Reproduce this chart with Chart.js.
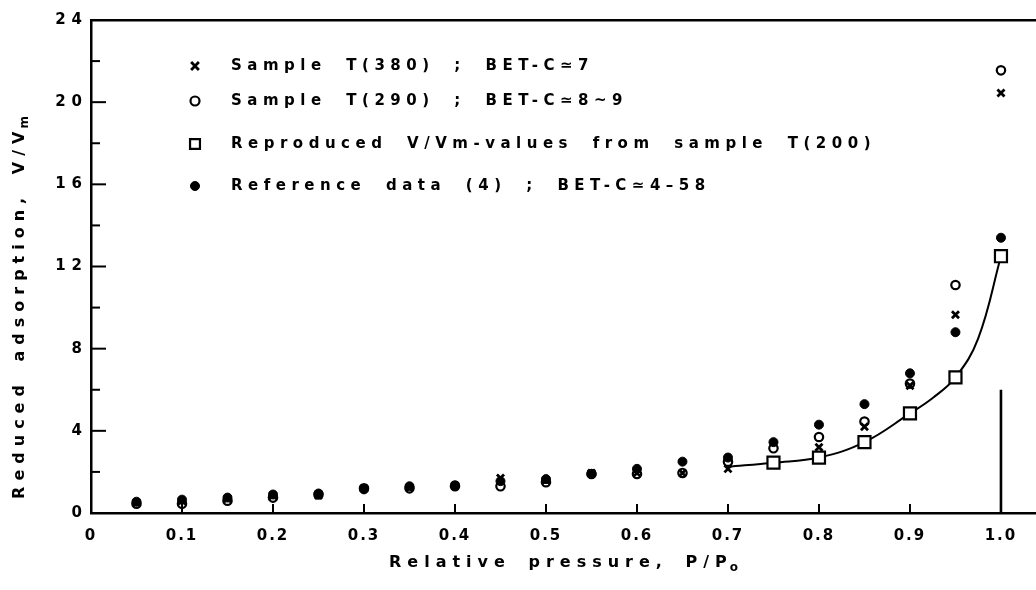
<!DOCTYPE html>
<html><head><meta charset="utf-8">
<script src="https://cdn.jsdelivr.net/npm/chart.js@4.4.0/dist/chart.umd.min.js"></script>
<style>html,body{margin:0;padding:0;background:#fff}#wrap{width:1036px;height:590px}</style>
</head><body><div id="wrap"><canvas id="c" width="1036" height="590"></canvas></div>
<script>
// ---- data ----
const pressures     = [0.05,0.10,0.15,0.20,0.25,0.30,0.35,0.40,0.45,0.50,0.55,0.60,0.65,0.70,0.75,0.80,0.85,0.90,0.95,1.00];
const sampleT380    = [0.50,0.60,0.70,0.85,0.85,1.20,1.25,1.35,1.70,1.60,1.95,1.95,1.95,2.15,2.50,3.20,4.20,6.20,9.65,20.45];
const sampleT290    = [0.45,0.45,0.60,0.75,0.90,1.20,1.20,1.30,1.30,1.50,1.90,1.90,1.95,2.50,3.15,3.70,4.45,6.30,11.10,21.55];
const referenceData = [0.55,0.65,0.75,0.90,0.95,1.15,1.30,1.35,1.55,1.65,1.90,2.15,2.50,2.70,3.45,4.30,5.30,6.80,8.80,13.40];
const reproducedP   = [0.75,0.80,0.85,0.90,0.95,1.00];
const reproducedV   = [2.45,2.70,3.45,4.85,6.60,12.50];
const curveP        = [0.70,0.75,0.80,0.85,0.90,0.925,0.95,0.975,1.00];
const curveV        = [2.25,2.45,2.70,3.45,4.85,5.60,6.60,8.50,12.50];
const limitLineP    = [1.0,1.0];
const limitLineV    = [0,6];
const xTickValues   = [0,0.1,0.2,0.3,0.4,0.5,0.6,0.7,0.8,0.9,1.0];
const yTickValues   = [0,4,8,12,16,20,24];
const yMinorValues  = [2,6,10,14,18,22];
const seriesNames   = ["Sample T(380) ; BET-C\u22437",
                       "Sample T(290) ; BET-C\u22438~9",
                       "Reproduced V/Vm-values from sample T(200)",
                       "Reference data (4) ; BET-C\u22434\u201358"];
const xTitleMain = "Relative pressure, P/P", xTitleSub = "o";
const yTitleMain = "Reduced adsorption, V/V", yTitleSub = "m";

const toXY = (xs, ys) => xs.map((x, i) => ({x, y: ys[i]}));

const FONT = "DejaVu Sans";
Chart.defaults.font.family = FONT;
Chart.defaults.font.size = 15;
Chart.defaults.font.weight = "bold";
Chart.defaults.color = "#000";

const styles = [
  {pointStyle: "crossRot", radius: 5,   borderWidth: 2.8, fill: "rgba(0,0,0,0)"},
  {pointStyle: "circle",   radius: 4.2, borderWidth: 2.2, fill: "rgba(0,0,0,0)"},
  {pointStyle: "rect",     radius: 8.5, borderWidth: 2.2, fill: "#fff"},
  {pointStyle: "circle",   radius: 4.5, borderWidth: 1,   fill: "#000"}
];
const legendRadius = [5.5, 4.5, 7, 4.5];

const decorPlugin = {
  id: "decor",
  afterLayout(chart) {
    const ys = chart.scales.y, xs = chart.scales.x;
    if (!ys._wrapped) {
      const o = ys.drawLabels;
      ys.drawLabels = function(a) { const c = this.ctx; c.save(); c.letterSpacing = "6px"; o.call(this, a); c.restore(); };
      ys._wrapped = true;
    }
    if (!xs._wrapped) {
      const o = xs.drawLabels;
      xs.drawLabels = function(a) { const c = this.ctx; c.save(); c.letterSpacing = "2px"; o.call(this, a); c.restore(); };
      xs._wrapped = true;
    }
  },
  afterDraw(chart) {
    const ctx = chart.ctx, ca = chart.chartArea;
    const xs = chart.scales.x, ys = chart.scales.y;
    ctx.save();
    ctx.strokeStyle = "#000";
    ctx.lineWidth = 2;
    ctx.lineCap = "butt";
    // inward ticks
    xTickValues.forEach(v => {
      if (v === 0) return;
      const px = xs.getPixelForValue(v);
      ctx.beginPath(); ctx.moveTo(px, ca.bottom); ctx.lineTo(px, ca.bottom - 9); ctx.stroke();
    });
    yTickValues.forEach(v => {
      if (v === 0 || v === 24) return;
      const py = ys.getPixelForValue(v);
      ctx.beginPath(); ctx.moveTo(ca.left, py); ctx.lineTo(ca.left + 15, py); ctx.stroke();
    });
    yMinorValues.forEach(v => {
      const py = ys.getPixelForValue(v);
      ctx.beginPath(); ctx.moveTo(ca.left, py); ctx.lineTo(ca.left + 9, py); ctx.stroke();
    });

    // legend
    const rowsY = [66, 101, 144, 186];
    ctx.font = "bold 15px " + FONT;
    ctx.fillStyle = "#000";
    ctx.textBaseline = "middle";
    ctx.textAlign = "left";
    seriesNames.forEach((name, i) => {
      const st = styles[i];
      ctx.save();
      ctx.strokeStyle = "#000";
      ctx.fillStyle = st.fill;
      ctx.lineWidth = st.borderWidth;
      Chart.helpers.drawPoint(ctx, {pointStyle: st.pointStyle, radius: legendRadius[i], rotation: 0, borderWidth: st.borderWidth}, 195, rowsY[i]);
      ctx.restore();
      ctx.save();
      ctx.letterSpacing = "5.5px";
      ctx.wordSpacing = "9px";
      ctx.fillText(name, 231, rowsY[i]);
      ctx.restore();
    });

    // axis titles with subscripts
    const drawSub = (main, sub, cx, cy) => {
      ctx.save();
      ctx.letterSpacing = "6px";
      ctx.wordSpacing = "6px";
      ctx.font = "bold 16px " + FONT;
      const w1 = ctx.measureText(main).width;
      ctx.font = "bold 12px " + FONT;
      const w2 = ctx.measureText(sub).width;
      const x0 = cx - (w1 + w2) / 2;
      ctx.font = "bold 16px " + FONT;
      ctx.textAlign = "left"; ctx.textBaseline = "middle";
      ctx.fillText(main, x0, cy);
      ctx.font = "bold 12px " + FONT;
      ctx.fillText(sub, x0 + w1 - 3, cy + 5);
      ctx.restore();
    };
    drawSub(xTitleMain, xTitleSub, 568, 563);
    ctx.save();
    ctx.translate(20, 303);
    ctx.rotate(-Math.PI / 2);
    drawSub(yTitleMain, yTitleSub, 0, 0);
    ctx.restore();
    ctx.restore();
  }
};

new Chart(document.getElementById("c"), {
  type: "scatter",
  data: {
    datasets: [
      {label: seriesNames[2], data: toXY(reproducedP, reproducedV), pointStyle: styles[2].pointStyle, pointRadius: styles[2].radius, pointBorderWidth: styles[2].borderWidth, borderColor: "#000", pointBackgroundColor: styles[2].fill, showLine: false},
      {label: seriesNames[0], data: toXY(pressures, sampleT380), pointStyle: styles[0].pointStyle, pointRadius: styles[0].radius, pointBorderWidth: styles[0].borderWidth, borderColor: "#000", pointBackgroundColor: styles[0].fill, showLine: false},
      {label: seriesNames[1], data: toXY(pressures, sampleT290), pointStyle: styles[1].pointStyle, pointRadius: styles[1].radius, pointBorderWidth: styles[1].borderWidth, borderColor: "#000", pointBackgroundColor: styles[1].fill, showLine: false},
      {label: seriesNames[3], data: toXY(pressures, referenceData), pointStyle: styles[3].pointStyle, pointRadius: styles[3].radius, pointBorderWidth: styles[3].borderWidth, borderColor: "#000", pointBackgroundColor: styles[3].fill, showLine: false},
      {label: "curve", data: toXY(curveP, curveV), showLine: true, borderColor: "#000", borderWidth: 2, pointRadius: 0, tension: 0.4},
      {label: "limit", data: toXY(limitLineP, limitLineV), showLine: true, borderColor: "#000", borderWidth: 2.6, pointRadius: 0}
    ]
  },
  options: {
    responsive: false,
    animation: false,
    devicePixelRatio: 1,
    layout: {autoPadding: false, padding: {left: 0, right: 0, top: 0, bottom: 0}},
    plugins: {legend: {display: false}, tooltip: {enabled: false}},
    scales: {
      x: {
        type: "linear", min: 0, max: 1.0385, position: "bottom",
        afterBuildTicks: s => { s.ticks = xTickValues.map(v => ({value: v})); },
        afterFit: s => { s.height = 77; s.paddingRight = 0; s.paddingLeft = 0; },
        grid: {display: false, drawTicks: false},
        border: {display: true, color: "#000", width: 2.5},
        ticks: {padding: 14, maxRotation: 0, autoSkip: false,
          callback: v => (v === 0 ? "0" : v.toFixed(1))}
      },
      xTop: {
        type: "linear", min: 0, max: 1.0385, position: "top",
        afterFit: s => { s.height = 20; s.paddingRight = 0; s.paddingLeft = 0; },
        grid: {display: false, drawTicks: false},
        border: {display: true, color: "#000", width: 2.5},
        ticks: {display: false}
      },
      y: {
        type: "linear", min: 0, max: 24, position: "left",
        afterBuildTicks: s => { s.ticks = yTickValues.map(v => ({value: v})); },
        afterFit: s => { s.width = 91; s.paddingTop = 0; s.paddingBottom = 0; },
        grid: {display: false, drawTicks: false},
        border: {display: true, color: "#000", width: 2.5},
        ticks: {padding: 3, autoSkip: false}
      }
    }
  },
  plugins: [decorPlugin]
});
</script>
</body></html>
